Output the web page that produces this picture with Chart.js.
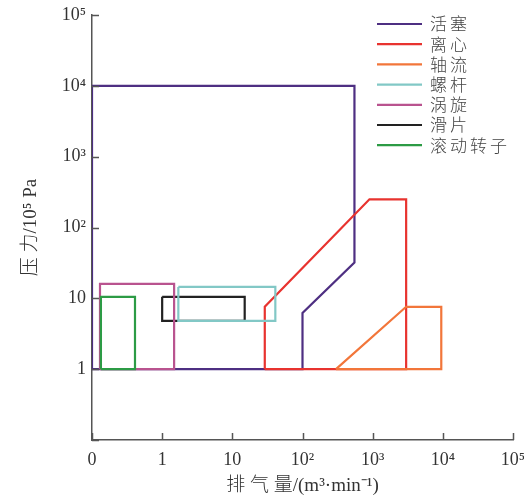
<!DOCTYPE html>
<html>
<head>
<meta charset="utf-8">
<script src="https://cdn.jsdelivr.net/npm/chart.js@4.4.0/dist/chart.umd.min.js"></script>
<style>
html, body { margin: 0; padding: 0; background: #fff; }
#wrap { width: 524px; height: 502px; }
</style>
</head>
<body>
<div id="wrap"><canvas id="chart"></canvas></div>
<script>
// compressor types, outlines in (flow m3/min, pressure 1e5 Pa)
const seriesNames = ["活塞", "离心", "轴流", "螺杆", "涡旋", "滑片", "滚动转子"];
const pistonFlow = [0.1, 550, 550, 100, 100, 0.1, 0.1];
const pistonPressure = [10000, 10000, 32, 6.2, 1, 1, 10000];
const centrifugalFlow = [29, 29, 900, 3000, 3000, 29];
const centrifugalPressure = [1, 7.6, 250, 250, 1, 1];
const axialFlow = [300, 3000, 9500, 9500, 300];
const axialPressure = [1, 7.6, 7.6, 1, 1];
const screwFlow = [1.7, 41, 41, 1.7, 1.7];
const screwPressure = [14.5, 14.5, 4.8, 4.8, 14.5];
const scrollFlow = [0.13, 1.48, 1.48, 0.13, 0.13];
const scrollPressure = [1, 1, 16, 16, 1];
const vaneFlow = [1, 15, 15, 1, 1];
const vanePressure = [10.5, 10.5, 4.8, 4.8, 10.5];
const rotorFlow = [0.134, 0.41, 0.41, 0.134, 0.134];
const rotorPressure = [1, 1, 10.5, 10.5, 1];

const xTickValues = [0.1, 1, 10, 100, 1000, 10000, 100000];
const xTickLabels = ["0", "1", "10", "10²", "10³", "10⁴", "10⁵"];
const yTickValues = [0.1, 1, 10, 100, 1000, 10000, 100000];
const yTickLabels = ["", "1", "10", "10²", "10³", "10⁴", "10⁵"];

const seriesColors = ["#4e2f82", "#e8332f", "#f2763a", "#82c8c6", "#b9538f", "#222222", "#2c9b45"];
const drawOrder = [7, 6, 5, 3, 2, 4, 1];

const flows = [pistonFlow, centrifugalFlow, axialFlow, screwFlow, scrollFlow, vaneFlow, rotorFlow];
const pressures = [pistonPressure, centrifugalPressure, axialPressure, screwPressure, scrollPressure, vanePressure, rotorPressure];

const serif = "'Liberation Serif', 'Noto Sans CJK SC', serif";
const axisColor = "#555";

const datasets = seriesNames.map(function(name, i) {
    return {
        label: name,
        data: flows[i].map(function(f, j) { return { x: f, y: pressures[i][j] }; }),
        showLine: true,
        borderColor: seriesColors[i],
        backgroundColor: seriesColors[i],
        borderWidth: 2.2,
        pointRadius: 0,
        tension: 0,
        order: drawOrder[i]
    };
});

// inward tick marks + legend in the top right
const extras = {
    id: "extras",
    afterDraw: function(chart) {
        const ctx = chart.ctx;
        const x = chart.scales.x, y = chart.scales.y;
        const area = chart.chartArea;
        ctx.save();
        ctx.strokeStyle = axisColor;
        ctx.lineWidth = 1.5;
        ctx.beginPath();
        xTickValues.forEach(function(v) {
            const px = Math.round(x.getPixelForValue(v)) + 0.5;
            ctx.moveTo(px, area.bottom);
            ctx.lineTo(px, area.bottom - 7);
        });
        yTickValues.forEach(function(v) {
            const py = Math.round(y.getPixelForValue(v)) + 0.5;
            ctx.moveTo(area.left, py);
            ctx.lineTo(area.left + 7, py);
        });
        ctx.stroke();

        ctx.font = "300 17px 'Noto Sans CJK SC'";
        ctx.letterSpacing = "3px";
        ctx.textBaseline = "middle";
        ctx.fillStyle = "#444";
        chart.data.datasets.forEach(function(ds, i) {
            const ly = 24 + i * 20.2;
            ctx.strokeStyle = ds.borderColor;
            ctx.lineWidth = 2.2;
            ctx.beginPath();
            ctx.moveTo(377, ly);
            ctx.lineTo(422, ly);
            ctx.stroke();
            ctx.fillText(ds.label, 430, ly);
        });
        ctx.restore();
    }
};

new Chart(document.getElementById("chart").getContext("2d"), {
    type: "scatter",
    data: { datasets: datasets },
    plugins: [extras],
    options: {
        responsive: true,
        maintainAspectRatio: false,
        animation: false,
        layout: { padding: { top: 15, right: 11, left: 0, bottom: 0 } },
        plugins: { legend: { display: false }, tooltip: { enabled: false } },
        scales: {
            x: {
                type: "logarithmic",
                min: 0.1,
                max: 100000,
                afterBuildTicks: function(s) { s.ticks = xTickValues.map(function(v) { return { value: v }; }); },
                afterFit: function(s) { s.height = 62; s.paddingRight = 0; s.paddingLeft = 0; },
                ticks: {
                    autoSkip: false,
                    maxRotation: 0,
                    padding: 9,
                    color: "#333",
                    font: { family: serif, size: 18 },
                    callback: function(v, i) { return xTickLabels[i]; }
                },
                grid: { display: false, drawTicks: false },
                border: { color: axisColor, width: 1.5 },
                title: {
                    display: true,
                    text: "排 气 量/(m³·min⁻¹)",
                    color: "#333",
                    font: { family: serif, size: 19, weight: "300" },
                    padding: { top: 0, bottom: 5 }
                }
            },
            y: {
                type: "logarithmic",
                min: 0.1,
                max: 100000,
                afterBuildTicks: function(s) { s.ticks = yTickValues.map(function(v) { return { value: v }; }); },
                afterFit: function(s) { s.width = 92; s.paddingTop = 0; s.paddingBottom = 0; },
                ticks: {
                    autoSkip: false,
                    padding: 6,
                    color: "#333",
                    font: { family: serif, size: 18 },
                    callback: function(v, i) { return yTickLabels[i]; }
                },
                grid: { display: false, drawTicks: false },
                border: { color: axisColor, width: 1.5 },
                title: {
                    display: true,
                    text: "压 力/10⁵ Pa",
                    color: "#333",
                    font: { family: serif, size: 19, weight: "300" },
                    padding: { top: 20, bottom: 0 }
                }
            }
        }
    }
});
</script>
</body>
</html>
